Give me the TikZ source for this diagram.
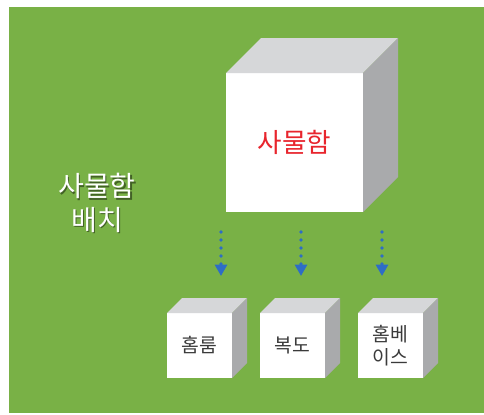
\documentclass[tikz,border=0pt]{standalone}
\usepackage{fontspec}
\setmainfont{Noto Sans CJK KR}
\usetikzlibrary{arrows.meta}

\definecolor{boardgreen}{HTML}{79B146}
\definecolor{topgray}{HTML}{D6D7D9}
\definecolor{sidegray}{HTML}{A9AAAC}
\definecolor{arrowblue}{HTML}{2E6DC6}
\definecolor{boxred}{HTML}{E8252D}
\definecolor{labelgray}{HTML}{3A3A3A}

\tikzset{
  front/.style={fill=white, draw=none, inner sep=0pt, outer sep=0pt, align=center},
  smallbox/.style={front, minimum width=48.75pt, minimum height=48.75pt,
    text=labelgray, font=\fontsize{14.5}{17}\selectfont},
  drop/.style={arrowblue, line width=2.8pt, line cap=round,
    dash pattern=on 0pt off 6pt, -{Triangle[width=9pt,length=8.5pt]}},
}

% top and right faces of a box, #1 = front node, #2 = depth
\newcommand\boxsides[2]{
  \fill[topgray] (#1.north west) -- ++(#2,-#2) -- ([shift={(#2,-#2)}]#1.north east) -- (#1.north east) -- cycle;
  \fill[sidegray] (#1.north east) -- ([shift={(#2,-#2)}]#1.north east) -- ([shift={(#2,-#2)}]#1.south east) -- (#1.south east) -- cycle;
}

\begin{document}
\begin{tikzpicture}[x=0.75pt,y=-0.75pt]

    % Dimensions of the boxes
    \def\bigdepth{35}   % depth of the big box
    \def\smalldepth{15} % depth of the small boxes

    % Board
    \useasboundingbox (0,0) rectangle (484,414);
    \fill[white] (0,0) rectangle (484,414);
    \fill[boardgreen] (9,7) rectangle (484,413);

    % Big box
    \node[front, minimum width=102.75pt, minimum height=104.25pt,
      text=boxred, font=\fontsize{20}{24}\selectfont] (locker) at (294.5,142.5) {사물함};
    \boxsides{locker}{\bigdepth}

    % Title on the left
    \node[black, opacity=0.45, align=center, font=\fontsize{21}{25}\selectfont] (titleshadow) at (98.5,204.5) {사물함\\배치};
    \node[white, align=center, font=\fontsize{21}{25}\selectfont] (title) at (97,203) {사물함\\배치};

    % Small boxes
    \node[smallbox] (homeroom) at (199.5,345.5) {홈룸};
    \node[smallbox] (hall) at (292.5,345.5) {복도};
    \node[smallbox] (homebase) at (390.5,345.5) {홈베\\이스};
    \boxsides{homeroom}{\smalldepth}
    \boxsides{hall}{\smalldepth}
    \boxsides{homebase}{\smalldepth}

    % Arrows
    \coordinate (a1) at (221,232); \coordinate (b1) at (221,276);
    \coordinate (a2) at (301,232); \coordinate (b2) at (301,276);
    \coordinate (a3) at (382,232); \coordinate (b3) at (382,276);
    \draw[drop] (a1) -- (b1);
    \draw[drop] (a2) -- (b2);
    \draw[drop] (a3) -- (b3);

\end{tikzpicture}
\end{document}
